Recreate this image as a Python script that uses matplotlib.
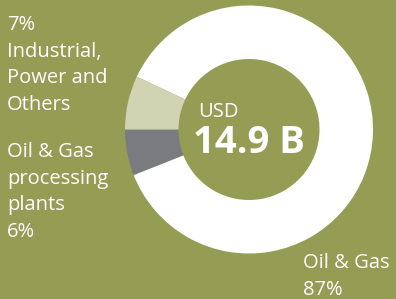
import matplotlib.pyplot as plt

# segment data
shares = [6, 87, 7]
colors = ['#797b80', '#ffffff', '#d0d4b3']
bg = '#959c54'

left_top = ['7%', 'Industrial,', 'Power and', 'Others']
left_bottom = ['Oil & Gas', 'processing', 'plants', '6%']
right_bottom = ['Oil & Gas', '87%']
total_label = 'USD'
total_value = '14.9 B'

plt.rcParams['font.family'] = ['Open Sans', 'DejaVu Sans']

fig = plt.figure(figsize=(3.96, 2.99), dpi=100, facecolor=bg)
ax = fig.add_axes([0, 0, 1, 1])
ax.set_facecolor(bg)

H = 299
ax.pie(shares, colors=colors, startangle=180, counterclock=True,
       center=(249, H - 129.5), radius=124,
       wedgeprops=dict(width=124 - 70.5, linewidth=0))

ax.set_xlim(0, 396)
ax.set_ylim(0, H)
ax.set_aspect('equal')
ax.axis('off')

fs = 14.5
for i, t in enumerate(left_top):
    ax.text(7, H - (30 + i * 26.7), t, color='white', fontsize=fs, va='baseline', ha='left')
for i, t in enumerate(left_bottom):
    ax.text(7, H - (157 + i * 26.7), t, color='white', fontsize=fs, va='baseline', ha='left')
for i, t in enumerate(right_bottom):
    ax.text(303, H - (268 + i * 26.7), t, color='white', fontsize=fs, va='baseline', ha='left')

ax.text(198, H - 117, total_label, color='white', fontsize=fs, va='baseline', ha='left')
ax.text(248.5, H - 153, total_value, color='white', fontsize=27.5, fontweight='bold',
        va='baseline', ha='center')

fig.savefig('out.png', dpi=100, facecolor=bg)
